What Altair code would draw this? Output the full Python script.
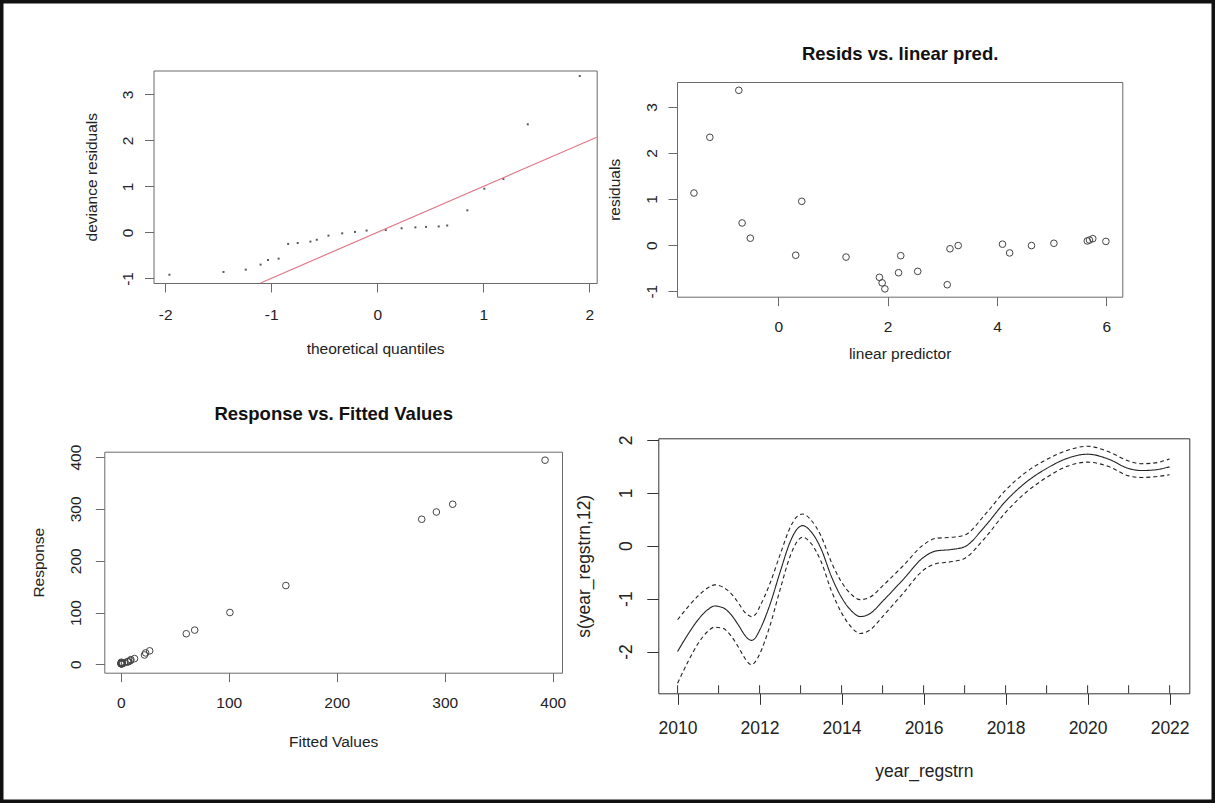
import altair as alt
import pandas as pd

# ---------------- data ----------------
# Panel 1: QQ plot of deviance residuals
qq_theoretical = [-1.96, -1.45, -1.24, -1.10, -1.03, -0.93, -0.84, -0.75, -0.63, -0.57,
                  -0.46, -0.33, -0.21, -0.10, 0.08, 0.23, 0.36, 0.46, 0.58, 0.66,
                  0.85, 1.01, 1.19, 1.42, 1.91]
qq_deviance = [-0.92, -0.86, -0.81, -0.70, -0.60, -0.57, -0.25, -0.23, -0.20, -0.16,
               -0.07, -0.02, 0.01, 0.04, 0.05, 0.09, 0.11, 0.12, 0.13, 0.15,
               0.48, 0.95, 1.16, 2.35, 3.40]
qq_ref_line = [-1.10, 2.07]

# Panel 2: residuals vs linear predictor
lin_pred = [-1.54, -1.25, -0.72, -0.66, -0.51, 0.32, 0.43, 1.24, 1.85, 1.90,
            1.95, 2.20, 2.24, 2.55, 3.09, 3.14, 3.29, 4.10, 4.23, 4.63,
            5.04, 5.65, 5.69, 5.75, 5.99]
resid = [1.13, 2.34, 3.36, 0.48, 0.15, -0.22, 0.95, -0.26, -0.70, -0.82,
         -0.95, -0.60, -0.23, -0.57, -0.86, -0.08, -0.01, 0.02, -0.17, -0.01,
         0.04, 0.09, 0.11, 0.14, 0.08]

# Panel 3: response vs fitted values
fitted = [392.9, 307.4, 292.3, 278.7, 152.9, 101.1, 68.5, 60.7, 26.8, 23.1,
          22.0, 12.8, 9.4, 9.0, 7.0, 6.7, 6.4, 3.5, 1.5, 1.4,
          0.6, 0.5, 0.5, 0.3, 0.2]
response = [394, 309, 294, 280, 152, 100, 66, 59, 26, 22,
            18, 11, 9, 7, 5, 5, 5, 3, 3, 1,
            1, 1, 4, 2, 1]

# Panel 4: smooth term s(year_regstrn,12) with +/- 2 se bands
smooth_year = [2010, 2010.25, 2010.5, 2010.75, 2010.9, 2011.1, 2011.3, 2011.5, 2011.62, 2011.72,
               2011.8, 2011.9, 2012.0, 2012.25, 2012.5, 2012.75, 2012.9, 2013.05, 2013.25, 2013.5,
               2013.75, 2014.0, 2014.25, 2014.45, 2014.7, 2015.0, 2015.5, 2016.0, 2016.3, 2016.7,
               2017.0, 2017.5, 2018.0, 2018.5, 2019.0, 2019.5, 2020.0, 2020.5, 2021.0, 2021.3,
               2021.6, 2022.0]
smooth_fit = [-2.00, -1.68, -1.40, -1.20, -1.14, -1.17, -1.30, -1.52, -1.67, -1.76,
              -1.79, -1.74, -1.60, -1.12, -0.50, 0.08, 0.30, 0.38, 0.27, -0.06,
              -0.58, -0.98, -1.24, -1.34, -1.28, -1.05, -0.64, -0.22, -0.10, -0.07,
              -0.02, 0.37, 0.84, 1.20, 1.46, 1.65, 1.73, 1.64, 1.46, 1.42,
              1.43, 1.49]
smooth_upper = [-1.40, -1.16, -0.95, -0.79, -0.74, -0.78, -0.90, -1.10, -1.24, -1.31,
                -1.34, -1.30, -1.16, -0.72, -0.17, 0.35, 0.54, 0.60, 0.49, 0.18,
                -0.31, -0.69, -0.93, -1.02, -0.97, -0.76, -0.38, 0.02, 0.14, 0.16,
                0.20, 0.59, 1.05, 1.39, 1.63, 1.80, 1.88, 1.78, 1.60, 1.55,
                1.56, 1.64]
smooth_lower = [-2.60, -2.20, -1.85, -1.61, -1.54, -1.56, -1.70, -1.94, -2.10, -2.21,
                -2.25, -2.19, -2.05, -1.52, -0.83, -0.19, 0.06, 0.16, 0.05, -0.30,
                -0.85, -1.27, -1.55, -1.66, -1.59, -1.34, -0.90, -0.46, -0.34, -0.30,
                -0.24, 0.15, 0.63, 1.01, 1.29, 1.50, 1.58, 1.50, 1.32, 1.29,
                1.30, 1.34]
rug_year = [2010, 2011, 2012, 2013, 2014, 2015, 2016, 2017, 2018, 2019, 2020, 2021, 2022]

# tick values
qq_x_ticks = [-2, -1, 0, 1, 2]
qq_y_ticks = [-1, 0, 1, 2, 3]
lp_x_ticks = [0, 2, 4, 6]
lp_y_ticks = [-1, 0, 1, 2, 3]
fv_ticks = [0, 100, 200, 300, 400]
yr_ticks = [2010, 2012, 2014, 2016, 2018, 2020, 2022]
s_ticks = [-2, -1, 0, 1, 2]

# ---------------- layout ----------------
W, H = 1215, 803
FONT = "Liberation Sans"
LABEL = "'' + datum.value"

# plot rectangles in the canvas (x0 left, x1 right, yb bottom, yt top) and data domains
P_TL = dict(x0=153.5, x1=596.7, yb=283.0, yt=70.5, xd=[-2.11, 2.07], yd=[-1.10, 3.52])
P_TR = dict(x0=677.0, x1=1122.3, yb=296.7, yt=82.0, xd=[-1.85, 6.29], yd=[-1.12, 3.54])
P_BL = dict(x0=104.3, x1=562.0, yb=672.7, yt=451.7, xd=[-15.2, 408.6], yd=[-16.2, 410.4])
P_BR = dict(x0=658.3, x1=1189.3, yb=693.3, yt=438.3, xd=[2009.53, 2022.48], yd=[-2.79, 2.03])


def xs(p):
    return alt.Scale(domain=p["xd"], range=[p["x0"], p["x1"]], nice=False, zero=False)


def ys(p):
    return alt.Scale(domain=p["yd"], range=[p["yb"], p["yt"]], nice=False, zero=False)


def bottom_axis(p, values, title, fs, tick, pad, title_y, color):
    return alt.Axis(orient="bottom", offset=p["yb"] - H, values=values, labelExpr=LABEL,
                    tickSize=tick, labelPadding=pad, labelFontSize=fs, labelAngle=0,
                    labelAlign="center", labelBaseline="middle", domainColor=color,
                    tickColor=color, title=title, titleFontSize=fs,
                    titleX=(p["x0"] + p["x1"]) / 2, titleY=title_y, titleAlign="center",
                    titleBaseline="alphabetic")


def left_axis(p, values, title, fs, tick, pad, title_x, color):
    return alt.Axis(orient="left", offset=-p["x0"], values=values, labelExpr=LABEL,
                    tickSize=tick, labelPadding=pad, labelFontSize=fs, labelAngle=270,
                    labelAlign="center", labelBaseline="middle", domainColor=color,
                    tickColor=color, title=title, titleFontSize=fs, titleAngle=270,
                    titleX=title_x, titleY=(p["yb"] + p["yt"]) / 2, titleAlign="center",
                    titleBaseline="alphabetic")


def top_axis(p, color, title="", title_y=0):
    return alt.Axis(orient="top", offset=-p["yt"], labels=False, ticks=False,
                    domainColor=color, title=title, titleFontSize=18.5,
                    titleFontWeight="bold", titleColor="#111",
                    titleX=(p["x0"] + p["x1"]) / 2, titleY=title_y, titleAlign="center",
                    titleBaseline="alphabetic")


def right_axis(p, color):
    return alt.Axis(orient="right", offset=p["x1"] - W, labels=False, ticks=False,
                    domainColor=color, title="")


BOX = "#6a6a6a"
BOX_DARK = "#333333"

# ---------------- panel 1 ----------------
tl_df = pd.DataFrame({"tq": qq_theoretical, "dr": qq_deviance})
tl_line_df = pd.DataFrame({"lx": qq_ref_line, "ly": qq_ref_line})

tl_points = alt.Chart(tl_df).mark_square(size=4, color="#5a5a5a", opacity=1).encode(
    x=alt.X("tq:Q", scale=xs(P_TL),
            axis=bottom_axis(P_TL, qq_x_ticks, "theoretical quantiles", 15.5, 9, 22, 70.4, BOX)),
    y=alt.Y("dr:Q", scale=ys(P_TL),
            axis=left_axis(P_TL, qq_y_ticks, "deviance residuals", 15.5, 9, 17.5, -57, BOX)),
)
tl_line = alt.Chart(tl_line_df).mark_line(color="#e2788a", strokeWidth=1.2).encode(
    x=alt.X("lx:Q", scale=xs(P_TL), axis=top_axis(P_TL, BOX)),
    y=alt.Y("ly:Q", scale=ys(P_TL), axis=right_axis(P_TL, BOX)),
)

# ---------------- panel 2 ----------------
tr_df = pd.DataFrame({"lp": lin_pred, "res": resid})
tr_points = alt.Chart(tr_df).mark_point(shape="circle", filled=False, size=44, color="#444444",
                                        strokeWidth=1, opacity=1).encode(
    x=alt.X("lp:Q", scale=xs(P_TR),
            axis=bottom_axis(P_TR, lp_x_ticks, "linear predictor", 15.5, 9, 20.3, 61.3, BOX)),
    y=alt.Y("res:Q", scale=ys(P_TR),
            axis=left_axis(P_TR, lp_y_ticks, "residuals", 15.5, 9, 16.3, -57.5, BOX)),
)
tr_frame = alt.Chart(tr_df).mark_point(opacity=0).encode(
    x=alt.X("lp:Q", scale=xs(P_TR),
            axis=top_axis(P_TR, BOX, "Resids vs. linear pred.", -22.2)),
    y=alt.Y("res:Q", scale=ys(P_TR), axis=right_axis(P_TR, BOX)),
)

# ---------------- panel 3 ----------------
bl_df = pd.DataFrame({"fv": fitted, "resp": response})
bl_points = alt.Chart(bl_df).mark_point(shape="circle", filled=False, size=44, color="#444444",
                                        strokeWidth=1, opacity=1).encode(
    x=alt.X("fv:Q", scale=xs(P_BL),
            axis=bottom_axis(P_BL, fv_ticks, "Fitted Values", 15.5, 9, 21, 74, BOX)),
    y=alt.Y("resp:Q", scale=ys(P_BL),
            axis=left_axis(P_BL, fv_ticks, "Response", 15.5, 9, 19.8, -60.8, BOX)),
)
bl_frame = alt.Chart(bl_df).mark_point(opacity=0).encode(
    x=alt.X("fv:Q", scale=xs(P_BL),
            axis=top_axis(P_BL, BOX, "Response vs. Fitted Values", -31.9)),
    y=alt.Y("resp:Q", scale=ys(P_BL), axis=right_axis(P_BL, BOX)),
)

# ---------------- panel 4 ----------------
n = len(smooth_year)
br_df = pd.DataFrame({
    "year": smooth_year * 3,
    "s": smooth_fit + smooth_upper + smooth_lower,
    "band": ["fit"] * n + ["upper"] * n + ["lower"] * n,
})
rug_df = pd.DataFrame({"ry": rug_year})

br_lines = alt.Chart(br_df).mark_line(color="#222222", strokeWidth=1.1,
                                      interpolate="monotone").encode(
    x=alt.X("year:Q", scale=xs(P_BR),
            axis=bottom_axis(P_BR, yr_ticks, "year_regstrn", 17.5, 11, 24, 83, BOX_DARK)),
    y=alt.Y("s:Q", scale=ys(P_BR),
            axis=left_axis(P_BR, s_ticks, "s(year_regstrn,12)", 17.5, 11.5, 20.1, -68.7, BOX_DARK)),
    strokeDash=alt.StrokeDash("band:N", scale=alt.Scale(domain=["fit", "upper", "lower"],
                                                        range=[[1, 0], [4, 3], [4, 3]])),
)
br_rug = alt.Chart(rug_df).mark_tick(orient="vertical", size=8, thickness=1, color="#333333",
                                     opacity=1, yOffset=-4).encode(
    x=alt.X("ry:Q", scale=xs(P_BR), axis=top_axis(P_BR, BOX_DARK)),
    y=alt.YDatum(P_BR["yd"][0], type="quantitative", scale=ys(P_BR),
                 axis=right_axis(P_BR, BOX_DARK)),
)

chart = alt.layer(
    tl_points, tl_line, tr_points, tr_frame, bl_points, bl_frame, br_lines, br_rug
).resolve_scale(
    x="independent", y="independent", strokeDash="independent"
).resolve_axis(
    x="independent", y="independent"
).properties(
    width=W, height=H, padding=0, background="white",
    autosize=alt.AutoSizeParams(type="none"),
).configure_view(
    stroke="#111111", strokeWidth=7
).configure_axis(
    labelFont=FONT, titleFont=FONT, grid=False, labelFlush=False, labelOverlap=False,
    labelBound=False, titleFontWeight="normal", labelColor="#222222", titleColor="#222222",
).configure_legend(disable=True)

chart.save("out.html", embed_options={"renderer": "svg", "actions": False})
